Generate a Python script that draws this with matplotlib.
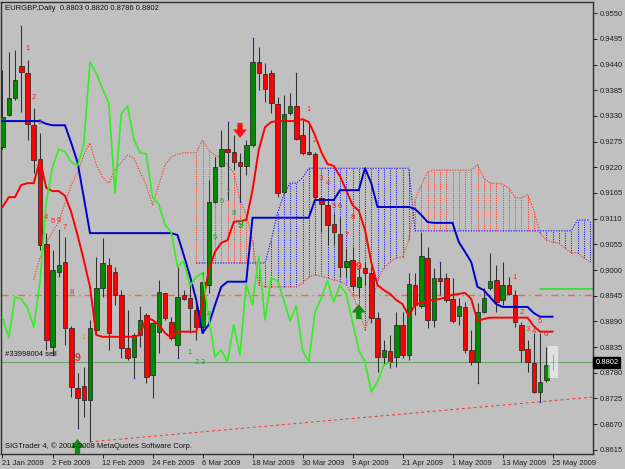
import matplotlib
matplotlib.use("Agg")
import matplotlib.pyplot as plt
from matplotlib.patches import Rectangle

# EURGBP daily bars, 21 Jan 2009 .. 25 May 2009 (one per trading day)
opens = [0.9263, 0.9332, 0.9368, 0.9437, 0.9422, 0.9311, 0.9238, 0.9056, 0.8835, 0.8996,
         0.9017, 0.8876, 0.8748, 0.8752, 0.8722, 0.8872, 0.8962, 0.9011, 0.8996, 0.8947,
         0.8833, 0.8814, 0.8861, 0.8904, 0.8776, 0.8868, 0.8951, 0.8889, 0.8840, 0.8947,
         0.8940, 0.8915, 0.8878, 0.8968, 0.9146, 0.9223, 0.9259, 0.9253, 0.9231, 0.9223,
         0.9268, 0.9445, 0.9420, 0.9422, 0.9355, 0.9167, 0.9336, 0.9351, 0.9289, 0.9253,
         0.9248, 0.9154, 0.9139, 0.9099, 0.9077, 0.9007, 0.9022, 0.8964, 0.9004, 0.8994,
         0.8898, 0.8814, 0.8827, 0.8814, 0.8883, 0.8818, 0.8968, 0.8923, 0.9026, 0.8893,
         0.8983, 0.8983, 0.8938, 0.8902, 0.8921, 0.8829, 0.8803, 0.8910, 0.8962, 0.8979,
         0.8936, 0.8968, 0.8947, 0.8883, 0.8831, 0.8801, 0.8739, 0.8765, 0.8803]
highs = [0.9428, 0.9467, 0.9471, 0.9522, 0.9450, 0.9347, 0.9293, 0.9079, 0.9043, 0.9086,
         0.9071, 0.8880, 0.8780, 0.8793, 0.8893, 0.9028, 0.9069, 0.9026, 0.9007, 0.8957,
         0.8915, 0.8865, 0.8921, 0.8908, 0.8889, 0.8979, 0.8951, 0.8900, 0.9007, 0.8957,
         0.8972, 0.8936, 0.8996, 0.9193, 0.9242, 0.9300, 0.9317, 0.9289, 0.9251, 0.9278,
         0.9497, 0.9477, 0.9443, 0.9428, 0.9370, 0.9375, 0.9379, 0.9422, 0.9321, 0.9315,
         0.9253, 0.9156, 0.9150, 0.9122, 0.9114, 0.9047, 0.9049, 0.9007, 0.9017, 0.9007,
         0.8910, 0.8850, 0.8861, 0.8910, 0.8910, 0.8994, 0.8994, 0.9081, 0.9049, 0.9004,
         0.9017, 0.8994, 0.8983, 0.8940, 0.8932, 0.8872, 0.8930, 0.8962, 0.9037, 0.9011,
         0.9017, 0.8985, 0.8957, 0.8889, 0.8850, 0.8865, 0.8865, 0.8835, 0.8820]
lows = [0.9259, 0.9330, 0.9364, 0.9338, 0.9278, 0.9208, 0.9043, 0.8829, 0.8818, 0.8985,
        0.8840, 0.8728, 0.8662, 0.8686, 0.8632, 0.8865, 0.8942, 0.8829, 0.8925, 0.8812,
        0.8808, 0.8769, 0.8835, 0.8758, 0.8726, 0.8823, 0.8893, 0.8850, 0.8812, 0.8936,
        0.8865, 0.8850, 0.8865, 0.8951, 0.9144, 0.9221, 0.9150, 0.9214, 0.9146, 0.9204,
        0.9263, 0.9385, 0.9360, 0.9336, 0.9156, 0.9163, 0.9332, 0.9278, 0.9246, 0.9246,
        0.9150, 0.9081, 0.9054, 0.9054, 0.8985, 0.8985, 0.8957, 0.8942, 0.8968, 0.8887,
        0.8782, 0.8797, 0.8791, 0.8793, 0.8812, 0.8808, 0.8904, 0.8919, 0.8876, 0.8878,
        0.8947, 0.8932, 0.8887, 0.8883, 0.8823, 0.8797, 0.8758, 0.8908, 0.8957, 0.8910,
        0.8925, 0.8947, 0.8878, 0.8803, 0.8782, 0.8737, 0.8718, 0.8761, 0.8786]
closes = [0.9328, 0.9368, 0.9407, 0.9424, 0.9313, 0.9236, 0.9054, 0.8850, 0.9000, 0.9011,
          0.8876, 0.8750, 0.8726, 0.8722, 0.8876, 0.8962, 0.9015, 0.8865, 0.8947, 0.8833,
          0.8812, 0.8861, 0.8893, 0.8771, 0.8887, 0.8953, 0.8898, 0.8855, 0.8942, 0.8938,
          0.8919, 0.8878, 0.8975, 0.9146, 0.9221, 0.9259, 0.9253, 0.9231, 0.9223, 0.9268,
          0.9445, 0.9422, 0.9388, 0.9358, 0.9165, 0.9334, 0.9351, 0.9281, 0.9251, 0.9249,
          0.9156, 0.9141, 0.9097, 0.9081, 0.9007, 0.9019, 0.8966, 0.8985, 0.8994, 0.8898,
          0.8814, 0.8829, 0.8803, 0.8883, 0.8818, 0.8970, 0.8925, 0.9030, 0.8893, 0.8983,
          0.8977, 0.8936, 0.8891, 0.8923, 0.8829, 0.8803, 0.8910, 0.8940, 0.8977, 0.8932,
          0.8968, 0.8949, 0.8889, 0.8829, 0.8803, 0.8739, 0.8761, 0.8797, 0.8802]

# Ichimoku lines as seen on the chart
tenkan = ([0.9135, 0.9156, 0.9156, 0.9182, 0.9186, 0.9186, 0.9236, 0.9176, 0.9169, 0.9169,
           0.9159, 0.9124, 0.9075, 0.9022, 0.8964, 0.8861] + [0.8857] * 6 +
          [0.8861, 0.8898, 0.8893, 0.8883, 0.8865, 0.8855] + [0.8868] * 4 +
          [0.8925, 0.9000, 0.9039, 0.9058, 0.9064, 0.9103, 0.9105, 0.9107, 0.9171, 0.9257,
           0.9306, 0.9317] + [0.9319] * 4 +
          [0.9323, 0.9317, 0.9289, 0.9253, 0.9227, 0.9223, 0.9201, 0.9171, 0.9139, 0.9127,
           0.9086, 0.9017, 0.8968, 0.8957, 0.8949, 0.8936, 0.8927, 0.8902, 0.8925, 0.8930,
           0.8934, 0.8936, 0.8938, 0.8942, 0.8947, 0.8949, 0.8951, 0.8938, 0.8891, 0.8895] +
          [0.8898] * 7 + [0.8880, 0.8868, 0.8868, 0.8868])
kijun = ([0.9319] * 7 + [0.9313] + [0.9310] * 3 + [0.9272, 0.9231, 0.9156] + [0.9079] * 14 +
         [0.9075, 0.9032, 0.8987, 0.8936, 0.8865, 0.8883, 0.8925, 0.8964] + [0.8975] * 4 +
         [0.9112] * 10 + [0.9150] * 4 + [0.9171] * 4 + [0.9218, 0.9186] + [0.9135] * 6 +
         [0.9131, 0.9118, 0.9103] + [0.9101] * 4 + [0.9060, 0.9039, 0.9017, 0.8964, 0.8957,
         0.8942, 0.8927] + [0.8921] * 5 + [0.8908] + [0.8900] * 3)
span_a_start = 5
span_a = ([0.8979, 0.9026, 0.9058, 0.9082, 0.9103, 0.9144, 0.9182, 0.9208, 0.9246, 0.9272,
           0.9225, 0.9199, 0.9186, 0.9214, 0.9231, 0.9246, 0.9240, 0.9210, 0.9182, 0.9139,
           0.9182, 0.9225, 0.9242, 0.9248] + [0.9251] * 3 +
          [0.9278, 0.9257, 0.9246, 0.9240, 0.9225, 0.9208, 0.9150, 0.9118, 0.9064, 0.8968] +
          [0.8964] * 6 +
          [0.8972, 0.8985, 0.8990, 0.8987, 0.8983, 0.8979, 0.8975, 0.8968, 0.8947, 0.8915,
           0.8872, 0.8915, 0.8979, 0.9005, 0.9017, 0.9026, 0.9028, 0.9064, 0.9150, 0.9182,
           0.9210] + [0.9214] * 7 +
          [0.9225, 0.9197, 0.9186, 0.9186, 0.9184, 0.9176, 0.9156, 0.9154, 0.9161, 0.9129,
           0.9079, 0.9064, 0.9060, 0.9058, 0.9047, 0.9037, 0.9037, 0.9026, 0.9017])
span_b_start = 31
span_b = ([0.9015] * 12 + [0.9064, 0.9122, 0.9161, 0.9186, 0.9186, 0.9197] + [0.9218] * 17 +
          [0.9084] * 26 + [0.9107] * 3)
chikou_shift = 26

date_labels = ["21 Jan 2009", "2 Feb 2009", "12 Feb 2009", "24 Feb 2009", "6 Mar 2009",
               "18 Mar 2009", "30 Mar 2009", "9 Apr 2009", "21 Apr 2009", "1 May 2009",
               "13 May 2009", "25 May 2009"]
date_bars = [0, 8, 16, 24, 32, 40, 48, 56, 64, 72, 80, 88]
price_ticks = [0.8615, 0.8670, 0.8725, 0.8780, 0.8835, 0.8890, 0.8945, 0.9000, 0.9055,
               0.9110, 0.9165, 0.9220, 0.9275, 0.9330, 0.9385, 0.9440, 0.9495, 0.9550]

# setup counts
td_red_bars = [4, 5, 6, 7, 8, 9, 10, 11, 12, 49, 50, 51, 52, 53, 54, 55, 56, 57, 82, 83, 84, 85, 86, 87]
td_red_text = ["1", "2", "3", "4", "5", "6", "7", "8", "9", "1", "2", "3", "4", "5", "6", "7", "8", "9",
               "1", "2", "3", "4", "5", "6"]
td_red_price = [0.9475, 0.9370, 0.9317, 0.9112, 0.9103, 0.9107, 0.9092, 0.8951, 0.8812,
                0.9343, 0.9278, 0.9197, 0.9186, 0.9137, 0.9137, 0.9075, 0.9112, 0.9007,
                0.8985, 0.8910, 0.8872, 0.8868, 0.8889, 0.8861]
td_green_bars = [30, 31, 32, 33, 34, 35, 36, 37, 38]
td_green_text = ["1", "2", "3", "4", "5", "6", "7", "8", "9"]
td_green_price = [0.8823, 0.8803, 0.8803, 0.8904, 0.9069, 0.9146, 0.9165, 0.9122, 0.9097]

frac_up = [3, 9, 22, 36, 40, 47, 70]
frac_dn = [8, 12, 21, 28, 38, 76, 86]

sell_arrow = (38, 0.9300)
buy_arrows = [(57, 0.8910), (12, 0.8621)]
trend_bars = [14, 94.5]
trend_price = [0.8632, 0.8728]
level_line = 0.8946
green_level = 0.8960
green_level_from = 86
order_price = 0.8802

BG = "#c0c0c0"
fig = plt.figure(figsize=(6.25, 4.69), dpi=100, facecolor=BG)
ax = fig.add_axes([1.5 / 625, 15 / 469, 591.5 / 625, 452 / 469], facecolor=BG)
ax.set_xlim(-0.16, 94.48)
ax.set_ylim(0.8606, 0.9574)

# cloud
for k, a in enumerate(span_a):
    i = span_a_start + k
    if i >= span_b_start:
        b = span_b[i - span_b_start]
        col = "#ff4030" if a > b else "#2020ff"
        ax.vlines(i, min(a, b), max(a, b), colors=col, linestyles=(0, (1.2, 1.2)), lw=0.7, zorder=1)
ax.plot(range(span_a_start, span_a_start + len(span_a)), span_a, color="#ff4030",
        ls=(0, (1.2, 1.2)), lw=0.8, zorder=1)
ax.plot(range(span_b_start, span_b_start + len(span_b)), span_b, color="#2020ff",
        ls=(0, (1.2, 1.2)), lw=0.8, zorder=1)

# horizontal levels
ax.axhline(level_line, color="#f06a40", lw=1.0, ls=(0, (5, 3, 1, 3)), zorder=1)
ax.axhline(order_price, color="#6fa06f", lw=0.8, zorder=1)
ax.plot([green_level_from, 94.5], [green_level, green_level], color="#33dd33", lw=1.2, zorder=1)
ax.plot(trend_bars, trend_price, color="#ff3030", lw=0.7, ls=(0, (3, 3)), zorder=1)

# candles
n = len(closes)
ax.vlines(range(n), lows, highs, colors="#303030", lw=0.75, zorder=2)
for i in range(n):
    o, c = opens[i], closes[i]
    col = "#008a00" if c >= o else "#ff0000"
    h = max(abs(c - o), 0.00006)
    ax.add_patch(Rectangle((i - 0.36, min(o, c)), 0.72, h, facecolor=col,
                           edgecolor="#202020", lw=0.5, zorder=3))

# last bar highlight
ax.add_patch(Rectangle((n - 1 - 0.8, lows[-1] - 0.0017), 1.6, highs[-1] - lows[-1] + 0.0034,
                       facecolor="white", alpha=0.55, lw=0, zorder=3))

# ichimoku lines
ax.plot(range(n), tenkan, color="#ff0000", lw=1.4, zorder=4)
ax.plot(range(n), kijun, color="#0000cc", lw=1.4, zorder=4)
ax.plot(range(n - chikou_shift), closes[chikou_shift:], color="#33ee22", lw=1.2, zorder=4)

# fractals
ax.scatter(frac_up, [highs[i] for i in frac_up], s=1.2, color="#2020ff", zorder=5, lw=0)
ax.scatter(frac_dn, [lows[i] for i in frac_dn], s=1.2, color="#2020ff", zorder=5, lw=0)

# setup numbers
for b, t, p in zip(td_red_bars, td_red_text, td_red_price):
    big = t == "9"
    ax.text(b, p, t, color="#ff2020", fontsize=7.5 if big else 5.5, fontweight="bold" if big else "normal",
            ha="center", va="center", family="Liberation Sans", zorder=6)
for b, t, p in zip(td_green_bars, td_green_text, td_green_price):
    big = t == "9"
    ax.text(b, p, t, color="#22aa22", fontsize=7.5 if big else 5.5, fontweight="bold" if big else "normal",
            ha="center", va="center", family="Liberation Sans", zorder=6)
ax.text(13, 0.8855, "1", color="#e09030", fontsize=5.5, ha="center", va="center",
        family="Liberation Sans", zorder=6)

# arrows
arrow_style = "simple,head_length=0.55,head_width=0.9,tail_width=0.35"
ax.annotate("", xy=(sell_arrow[0], sell_arrow[1] - 0.0017), xytext=(sell_arrow[0], sell_arrow[1] + 0.0015),
            arrowprops=dict(arrowstyle=arrow_style, color="#ff1010", lw=0, mutation_scale=11,
                            shrinkA=0, shrinkB=0), zorder=6)
for b, p in buy_arrows:
    ax.annotate("", xy=(b, p + 0.0017), xytext=(b, p - 0.0015),
                arrowprops=dict(arrowstyle=arrow_style, color="#108a10", lw=0, mutation_scale=11,
                                shrinkA=0, shrinkB=0), zorder=6)

# texts
font = dict(family="Liberation Sans", fontsize=5.5, color="#101010")
ax.text(0.006, 0.993, "EURGBP,Daily  0.8803 0.8820 0.8786 0.8802", transform=ax.transAxes,
        va="top", ha="left", zorder=7, **font)
ax.text(0.006, order_price + 0.0009, "#33998004 sell", va="bottom", ha="left", zorder=7,
        transform=ax.get_yaxis_transform(), **font)
ax.text(0.006, 0.008, "SIGTrader 4, \u00a9 2001-2008 MetaQuotes Software Corp.", transform=ax.transAxes,
        va="bottom", ha="left", zorder=7, **font)

# axes
for s in ax.spines.values():
    s.set_color("#303030")
    s.set_linewidth(1.0)
ax.yaxis.tick_right()
ax.set_yticks(price_ticks)
ax.set_yticklabels([f"{v:.4f}" for v in price_ticks])
ax.set_xticks(date_bars)
ax.set_xticklabels(date_labels)
ax.tick_params(axis="y", length=3, width=0.7, pad=1.5, labelsize=5.5, colors="#202020")
ax.tick_params(axis="x", length=3, width=0.7, pad=1, labelsize=5.5, colors="#202020")
for lab in ax.get_xticklabels():
    lab.set_ha("left")
    lab.set_family("Liberation Sans")
for lab in ax.get_yticklabels():
    lab.set_family("Liberation Sans")

ax.text(1.004, order_price, "0.8802", transform=ax.get_yaxis_transform(), color="white",
        fontsize=5.5, family="Liberation Sans", va="center", ha="left", zorder=8, clip_on=False,
        bbox=dict(boxstyle="square,pad=0.25", facecolor="black", edgecolor="black"))

fig.savefig("out.png", dpi=100, facecolor=BG)
